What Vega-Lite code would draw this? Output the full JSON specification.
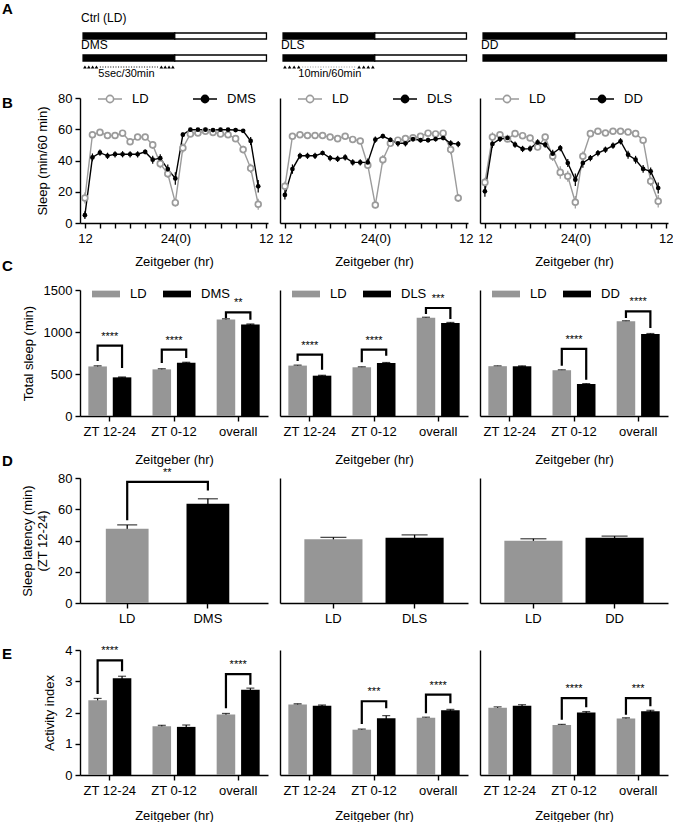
{
  "$schema": "https://vega.github.io/schema/vega-lite/v6.json",
  "background": "white",
  "padding": {"left": 2, "top": 2, "right": 0, "bottom": 0},
  "columns": 3,
  "bounds": "flush",
  "spacing": {"row": 0, "column": 12},
  "resolve": {"scale": {"color": "independent", "fill": "independent", "size": "independent", "xOffset": "independent", "x": "independent", "y": "independent"}},
  "config": {
    "font": "Liberation Sans",
    "view": {"stroke": null},
    "axis": {"grid": false, "domainColor": "#000", "domainWidth": 1.4, "tickColor": "#000", "tickWidth": 1.4, "tickSize": 5, "labelColor": "#000", "labelFontSize": 13, "labelFont": "Liberation Sans", "titleColor": "#000", "titleFontSize": 13, "titleFontWeight": "normal", "titleFont": "Liberation Sans", "labelPadding": 3},
    "axisX": {"labelPadding": 4},
    "legend": {"labelFontSize": 13, "labelColor": "#000", "labelFont": "Liberation Sans"},
    "title": {"color": "#000", "font": "Liberation Sans"},
    "text": {"font": "Liberation Sans", "color": "#000"}
  },
  "datasets": {
    "b1": [
      {"h":12,"s":"LD","m":16,"e":3.5},{"h":13,"s":"LD","m":56.5,"e":1.5},{"h":14,"s":"LD","m":58,"e":1},{"h":15,"s":"LD","m":56,"e":1.5},{"h":16,"s":"LD","m":56,"e":1},{"h":17,"s":"LD","m":57.5,"e":1},{"h":18,"s":"LD","m":52,"e":2},{"h":19,"s":"LD","m":55,"e":1.5},{"h":20,"s":"LD","m":55,"e":1.5},{"h":21,"s":"LD","m":50,"e":2.5},{"h":22,"s":"LD","m":38,"e":3},{"h":23,"s":"LD","m":31.5,"e":2.5},{"h":24,"s":"LD","m":13,"e":2.5},{"h":25,"s":"LD","m":48,"e":3},{"h":26,"s":"LD","m":57,"e":1.5},{"h":27,"s":"LD","m":57.6,"e":1},{"h":28,"s":"LD","m":58.7,"e":1},{"h":29,"s":"LD","m":58,"e":1},{"h":30,"s":"LD","m":57,"e":1},{"h":31,"s":"LD","m":56.5,"e":1.5},{"h":32,"s":"LD","m":54,"e":2},{"h":33,"s":"LD","m":47,"e":2.5},{"h":34,"s":"LD","m":35,"e":3},{"h":35,"s":"LD","m":12,"e":3.5},
      {"h":12,"s":"DMS","m":5,"e":2.5},{"h":13,"s":"DMS","m":42,"e":2.5},{"h":14,"s":"DMS","m":45,"e":2},{"h":15,"s":"DMS","m":43,"e":2},{"h":16,"s":"DMS","m":44,"e":2},{"h":17,"s":"DMS","m":44,"e":2},{"h":18,"s":"DMS","m":44,"e":2},{"h":19,"s":"DMS","m":44,"e":2},{"h":20,"s":"DMS","m":45.5,"e":1.5},{"h":21,"s":"DMS","m":40.5,"e":2.5},{"h":22,"s":"DMS","m":41.5,"e":2.5},{"h":23,"s":"DMS","m":34.5,"e":3},{"h":24,"s":"DMS","m":28.5,"e":4},{"h":25,"s":"DMS","m":56.5,"e":1.5},{"h":26,"s":"DMS","m":59.7,"e":0.7},{"h":27,"s":"DMS","m":59.7,"e":0.7},{"h":28,"s":"DMS","m":59.7,"e":0.7},{"h":29,"s":"DMS","m":59.5,"e":0.7},{"h":30,"s":"DMS","m":59.7,"e":0.7},{"h":31,"s":"DMS","m":59.7,"e":0.7},{"h":32,"s":"DMS","m":59.5,"e":0.7},{"h":33,"s":"DMS","m":59,"e":1},{"h":34,"s":"DMS","m":52.5,"e":2.5},{"h":35,"s":"DMS","m":23.5,"e":4}
    ],
    "b2": [
      {"h":12,"s":"LD","m":23.5,"e":3},{"h":13,"s":"LD","m":55.5,"e":1.5},{"h":14,"s":"LD","m":56.5,"e":1},{"h":15,"s":"LD","m":56,"e":1},{"h":16,"s":"LD","m":56,"e":1},{"h":17,"s":"LD","m":56,"e":1},{"h":18,"s":"LD","m":55,"e":1},{"h":19,"s":"LD","m":54,"e":1},{"h":20,"s":"LD","m":55.5,"e":1},{"h":21,"s":"LD","m":53.5,"e":1.5},{"h":22,"s":"LD","m":52.5,"e":1.5},{"h":23,"s":"LD","m":37,"e":2.5},{"h":24,"s":"LD","m":11.5,"e":2},{"h":25,"s":"LD","m":40.5,"e":3},{"h":26,"s":"LD","m":51,"e":2},{"h":27,"s":"LD","m":53,"e":1.5},{"h":28,"s":"LD","m":54,"e":1.5},{"h":29,"s":"LD","m":54.5,"e":1.5},{"h":30,"s":"LD","m":55.5,"e":1.5},{"h":31,"s":"LD","m":57.5,"e":1.5},{"h":32,"s":"LD","m":57,"e":1.5},{"h":33,"s":"LD","m":57.5,"e":1.5},{"h":34,"s":"LD","m":47,"e":3},{"h":35,"s":"LD","m":16,"e":2.5},
      {"h":12,"s":"DLS","m":18,"e":3},{"h":13,"s":"DLS","m":34.5,"e":3},{"h":14,"s":"DLS","m":43,"e":2},{"h":15,"s":"DLS","m":43,"e":2},{"h":16,"s":"DLS","m":43,"e":2},{"h":17,"s":"DLS","m":44.8,"e":1.5},{"h":18,"s":"DLS","m":41.6,"e":2},{"h":19,"s":"DLS","m":41,"e":2},{"h":20,"s":"DLS","m":42,"e":2},{"h":21,"s":"DLS","m":38.8,"e":2},{"h":22,"s":"DLS","m":38.8,"e":2},{"h":23,"s":"DLS","m":38.8,"e":2.5},{"h":24,"s":"DLS","m":53.3,"e":2},{"h":25,"s":"DLS","m":55.6,"e":1.5},{"h":26,"s":"DLS","m":53.2,"e":1.5},{"h":27,"s":"DLS","m":51,"e":2},{"h":28,"s":"DLS","m":51,"e":2},{"h":29,"s":"DLS","m":53.7,"e":1.5},{"h":30,"s":"DLS","m":53,"e":1.5},{"h":31,"s":"DLS","m":53,"e":1.5},{"h":32,"s":"DLS","m":53.7,"e":1.5},{"h":33,"s":"DLS","m":54.4,"e":1.5},{"h":34,"s":"DLS","m":51,"e":2},{"h":35,"s":"DLS","m":50.5,"e":2}
    ],
    "b3": [
      {"h":12,"s":"LD","m":26,"e":3},{"h":13,"s":"LD","m":55,"e":3},{"h":14,"s":"LD","m":56.5,"e":2},{"h":15,"s":"LD","m":53.8,"e":2},{"h":16,"s":"LD","m":57.2,"e":1.5},{"h":17,"s":"LD","m":55.9,"e":1.5},{"h":18,"s":"LD","m":54.4,"e":1.5},{"h":19,"s":"LD","m":48.6,"e":2},{"h":20,"s":"LD","m":55,"e":2},{"h":21,"s":"LD","m":42.7,"e":3},{"h":22,"s":"LD","m":32.4,"e":4},{"h":23,"s":"LD","m":29.9,"e":3.5},{"h":24,"s":"LD","m":13.3,"e":4},{"h":25,"s":"LD","m":42.7,"e":3},{"h":26,"s":"LD","m":57.2,"e":1.5},{"h":27,"s":"LD","m":58.7,"e":1},{"h":28,"s":"LD","m":57.6,"e":1},{"h":29,"s":"LD","m":58.7,"e":1},{"h":30,"s":"LD","m":58.7,"e":1},{"h":31,"s":"LD","m":58.2,"e":1},{"h":32,"s":"LD","m":57.2,"e":1},{"h":33,"s":"LD","m":53,"e":2},{"h":34,"s":"LD","m":26.7,"e":3},{"h":35,"s":"LD","m":13.9,"e":4},
      {"h":12,"s":"DD","m":20.3,"e":3.5},{"h":13,"s":"DD","m":50.6,"e":2.5},{"h":14,"s":"DD","m":53.8,"e":2},{"h":15,"s":"DD","m":54.4,"e":2},{"h":16,"s":"DD","m":50.1,"e":2},{"h":17,"s":"DD","m":47.4,"e":2},{"h":18,"s":"DD","m":47.6,"e":2},{"h":19,"s":"DD","m":51.6,"e":2},{"h":20,"s":"DD","m":50.1,"e":2},{"h":21,"s":"DD","m":44.4,"e":2.5},{"h":22,"s":"DD","m":48,"e":2},{"h":23,"s":"DD","m":38.4,"e":2.5},{"h":24,"s":"DD","m":27.7,"e":4},{"h":25,"s":"DD","m":38.4,"e":3},{"h":26,"s":"DD","m":41.6,"e":2},{"h":27,"s":"DD","m":44.8,"e":2},{"h":28,"s":"DD","m":46.9,"e":2},{"h":29,"s":"DD","m":49.5,"e":2},{"h":30,"s":"DD","m":52.3,"e":2},{"h":31,"s":"DD","m":43.7,"e":2.5},{"h":32,"s":"DD","m":40.5,"e":2.5},{"h":33,"s":"DD","m":34.6,"e":2.5},{"h":34,"s":"DD","m":33.1,"e":2.5},{"h":35,"s":"DD","m":22.4,"e":3.5}
    ],
    "c1": [{"g":"ZT 12-24","s":"LD","m":590,"e":8},{"g":"ZT 12-24","s":"DMS","m":460,"e":5},{"g":"ZT 0-12","s":"LD","m":555,"e":8},{"g":"ZT 0-12","s":"DMS","m":635,"e":5},{"g":"overall","s":"LD","m":1150,"e":8},{"g":"overall","s":"DMS","m":1090,"e":6}],
    "c1br": [{"g":"ZT 12-24","s":"LD","m":655,"o":1},{"g":"ZT 12-24","s":"LD","m":837,"o":2},{"g":"ZT 12-24","s":"DMS","m":837,"o":3},{"g":"ZT 12-24","s":"DMS","m":571,"o":4},{"g":"ZT 0-12","s":"LD","m":631,"o":1},{"g":"ZT 0-12","s":"LD","m":789,"o":2},{"g":"ZT 0-12","s":"DMS","m":789,"o":3},{"g":"ZT 0-12","s":"DMS","m":690,"o":4},{"g":"overall","s":"LD","m":1167,"o":1},{"g":"overall","s":"LD","m":1234,"o":2},{"g":"overall","s":"DMS","m":1234,"o":3},{"g":"overall","s":"DMS","m":1147,"o":4}],
    "c1st": [{"g":"ZT 12-24","m":837,"t":"****"},{"g":"ZT 0-12","m":789,"t":"****"},{"g":"overall","m":1234,"t":"**"}],
    "c2": [{"g":"ZT 12-24","s":"LD","m":600,"e":6},{"g":"ZT 12-24","s":"DLS","m":480,"e":5},{"g":"ZT 0-12","s":"LD","m":580,"e":6},{"g":"ZT 0-12","s":"DLS","m":632,"e":5},{"g":"overall","s":"LD","m":1170,"e":6},{"g":"overall","s":"DLS","m":1108,"e":6}],
    "c2br": [{"g":"ZT 12-24","s":"LD","m":655,"o":1},{"g":"ZT 12-24","s":"LD","m":730,"o":2},{"g":"ZT 12-24","s":"DLS","m":730,"o":3},{"g":"ZT 12-24","s":"DLS","m":551,"o":4},{"g":"ZT 0-12","s":"LD","m":639,"o":1},{"g":"ZT 0-12","s":"LD","m":789,"o":2},{"g":"ZT 0-12","s":"DLS","m":789,"o":3},{"g":"ZT 0-12","s":"DLS","m":718,"o":4},{"g":"overall","s":"LD","m":1214,"o":1},{"g":"overall","s":"LD","m":1286,"o":2},{"g":"overall","s":"DLS","m":1286,"o":3},{"g":"overall","s":"DLS","m":1155,"o":4}],
    "c2st": [{"g":"ZT 12-24","m":730,"t":"****"},{"g":"ZT 0-12","m":789,"t":"****"},{"g":"overall","m":1286,"t":"***"}],
    "c3": [{"g":"ZT 12-24","s":"LD","m":593,"e":5},{"g":"ZT 12-24","s":"DD","m":592,"e":5},{"g":"ZT 0-12","s":"LD","m":545,"e":5},{"g":"ZT 0-12","s":"DD","m":381,"e":5},{"g":"overall","s":"LD","m":1128,"e":6},{"g":"overall","s":"DD","m":976,"e":6}],
    "c3br": [{"g":"ZT 0-12","s":"LD","m":599,"o":1},{"g":"ZT 0-12","s":"LD","m":798,"o":2},{"g":"ZT 0-12","s":"DD","m":798,"o":3},{"g":"ZT 0-12","s":"DD","m":432,"o":4},{"g":"overall","s":"LD","m":1167,"o":1},{"g":"overall","s":"LD","m":1246,"o":2},{"g":"overall","s":"DD","m":1246,"o":3},{"g":"overall","s":"DD","m":1048,"o":4}],
    "c3st": [{"g":"ZT 0-12","m":798,"t":"****"},{"g":"overall","m":1246,"t":"****"}],
    "d1": [{"s":"LD","m":47.5,"e":2.5},{"s":"DMS","m":63.5,"e":3.2}],
    "d1br": [{"s":"LD","m":53,"o":1},{"s":"LD","m":77.5,"o":2},{"s":"DMS","m":77.5,"o":3},{"s":"DMS","m":72,"o":4}],
    "d1st": [{"s":"LD","m":77.5,"t":"**"}],
    "d2": [{"s":"LD","m":40.8,"e":1.2},{"s":"DLS","m":41.8,"e":1.8}],
    "d3": [{"s":"LD","m":39.8,"e":1.3},{"s":"DD","m":41.8,"e":1}],
    "e1": [{"g":"ZT 12-24","s":"LD","m":2.39,"e":0.06},{"g":"ZT 12-24","s":"DMS","m":3.1,"e":0.06},{"g":"ZT 0-12","s":"LD","m":1.56,"e":0.03},{"g":"ZT 0-12","s":"DMS","m":1.54,"e":0.06},{"g":"overall","s":"LD","m":1.94,"e":0.03},{"g":"overall","s":"DMS","m":2.73,"e":0.05}],
    "e1br": [{"g":"ZT 12-24","s":"LD","m":2.59,"o":1},{"g":"ZT 12-24","s":"LD","m":3.67,"o":2},{"g":"ZT 12-24","s":"DMS","m":3.67,"o":3},{"g":"ZT 12-24","s":"DMS","m":3.32,"o":4},{"g":"overall","s":"LD","m":2.14,"o":1},{"g":"overall","s":"LD","m":3.23,"o":2},{"g":"overall","s":"DMS","m":3.23,"o":3},{"g":"overall","s":"DMS","m":2.89,"o":4}],
    "e1st": [{"g":"ZT 12-24","m":3.67,"t":"****"},{"g":"overall","m":3.23,"t":"****"}],
    "e2": [{"g":"ZT 12-24","s":"LD","m":2.26,"e":0.02},{"g":"ZT 12-24","s":"DLS","m":2.22,"e":0.02},{"g":"ZT 0-12","s":"LD","m":1.45,"e":0.02},{"g":"ZT 0-12","s":"DLS","m":1.82,"e":0.08},{"g":"overall","s":"LD","m":1.83,"e":0.02},{"g":"overall","s":"DLS","m":2.07,"e":0.03}],
    "e2br": [{"g":"ZT 0-12","s":"LD","m":1.63,"o":1},{"g":"ZT 0-12","s":"LD","m":2.36,"o":2},{"g":"ZT 0-12","s":"DLS","m":2.36,"o":3},{"g":"ZT 0-12","s":"DLS","m":2.14,"o":4},{"g":"overall","s":"LD","m":1.98,"o":1},{"g":"overall","s":"LD","m":2.57,"o":2},{"g":"overall","s":"DLS","m":2.57,"o":3},{"g":"overall","s":"DLS","m":2.3,"o":4}],
    "e2st": [{"g":"ZT 0-12","m":2.36,"t":"***"},{"g":"overall","m":2.57,"t":"****"}],
    "e3": [{"g":"ZT 12-24","s":"LD","m":2.15,"e":0.03},{"g":"ZT 12-24","s":"DD","m":2.22,"e":0.03},{"g":"ZT 0-12","s":"LD","m":1.6,"e":0.02},{"g":"ZT 0-12","s":"DD","m":2.0,"e":0.03},{"g":"overall","s":"LD","m":1.81,"e":0.02},{"g":"overall","s":"DD","m":2.04,"e":0.03}],
    "e3br": [{"g":"ZT 0-12","s":"LD","m":1.77,"o":1},{"g":"ZT 0-12","s":"LD","m":2.46,"o":2},{"g":"ZT 0-12","s":"DD","m":2.46,"o":3},{"g":"ZT 0-12","s":"DD","m":2.17,"o":4},{"g":"overall","s":"LD","m":1.93,"o":1},{"g":"overall","s":"LD","m":2.46,"o":2},{"g":"overall","s":"DD","m":2.46,"o":3},{"g":"overall","s":"DD","m":2.2,"o":4}],
    "e3st": [{"g":"ZT 0-12","m":2.46,"t":"****"},{"g":"overall","m":2.46,"t":"***"}]
  },
  "concat": [
    {
      "width": 188, "height": 22,
      "title": {"text": "A", "orient": "top", "anchor": "start", "frame": "group", "dx": -78, "dy": 5, "offset": 0, "fontSize": 15, "fontWeight": "bold"},
      "layer": [
        {"data": {"values": [{"lane":"top","start":12,"end":24,"ph":"dark"},{"lane":"top","start":24,"end":36,"ph":"light"},{"lane":"bottom","start":12,"end":24,"ph":"dark"},{"lane":"bottom","start":24,"end":36,"ph":"light"}]},
         "mark": {"type": "bar", "height": 6, "stroke": "#000", "strokeWidth": 1.3},
         "encoding": {
           "x": {"field": "start", "type": "quantitative", "scale": {"domain": [11.6, 36.2], "nice": false, "zero": false}, "axis": null},
           "x2": {"field": "end"},
           "y": {"field": "lane", "type": "nominal", "scale": {"type": "point", "domain": ["top", "bottom"], "padding": 0}, "axis": null},
           "fill": {"field": "ph", "type": "nominal", "scale": {"domain": ["dark", "light"], "range": ["#000000", "#ffffff"]}, "legend": null}}},
        {"data": {"values": [{"lane":"top","t":12,"txt":"Ctrl (LD)"}]},
         "mark": {"type": "text", "align": "left", "baseline": "middle", "dy": -18, "dx": -2, "fontSize": 12},
         "encoding": {"x": {"field": "t", "type": "quantitative"}, "y": {"field": "lane", "type": "nominal"}, "text": {"field": "txt"}}},
        {"data": {"values": [{"lane":"bottom","t":12,"txt":"DMS"}]},
         "mark": {"type": "text", "align": "left", "baseline": "middle", "dy": -13, "dx": -2, "fontSize": 12},
         "encoding": {"x": {"field": "t", "type": "quantitative"}, "y": {"field": "lane", "type": "nominal"}, "text": {"field": "txt"}}},
        {"data": {"values": [{"lane":"bottom","t":12.25},{"lane":"bottom","t":12.75},{"lane":"bottom","t":13.25},{"lane":"bottom","t":13.75},{"lane":"bottom","t":22.25},{"lane":"bottom","t":22.75},{"lane":"bottom","t":23.25},{"lane":"bottom","t":23.75}]},
         "mark": {"type": "point", "shape": "triangle-up", "filled": true, "color": "#000", "size": 14, "opacity": 1, "yOffset": 9},
         "encoding": {"x": {"field": "t", "type": "quantitative"}, "y": {"field": "lane", "type": "nominal"}}},
        {"data": {"values": [{"lane":"bottom","t":14.2,"t2":21.8}]},
         "mark": {"type": "rule", "strokeDash": [1, 1.6], "strokeWidth": 1, "color": "#000", "yOffset": 9},
         "encoding": {"x": {"field": "t", "type": "quantitative"}, "x2": {"field": "t2"}, "y": {"field": "lane", "type": "nominal"}}},
        {"data": {"values": [{"lane":"bottom","t":14,"txt":"5sec/30min"}]},
         "mark": {"type": "text", "align": "left", "baseline": "middle", "dy": 16, "fontSize": 11},
         "encoding": {"x": {"field": "t", "type": "quantitative"}, "y": {"field": "lane", "type": "nominal"}, "text": {"field": "txt"}}}
      ]
    },
    {
      "width": 188, "height": 22,
      "layer": [
        {"data": {"values": [{"lane":"top","start":12,"end":24,"ph":"dark"},{"lane":"top","start":24,"end":36,"ph":"light"},{"lane":"bottom","start":12,"end":24,"ph":"dark"},{"lane":"bottom","start":24,"end":36,"ph":"light"}]},
         "mark": {"type": "bar", "height": 6, "stroke": "#000", "strokeWidth": 1.3},
         "encoding": {
           "x": {"field": "start", "type": "quantitative", "scale": {"domain": [11.6, 36.2], "nice": false, "zero": false}, "axis": null},
           "x2": {"field": "end"},
           "y": {"field": "lane", "type": "nominal", "scale": {"type": "point", "domain": ["top", "bottom"], "padding": 0}, "axis": null},
           "fill": {"field": "ph", "type": "nominal", "scale": {"domain": ["dark", "light"], "range": ["#000000", "#ffffff"]}, "legend": null}}},
        {"data": {"values": [{"lane":"bottom","t":12,"txt":"DLS"}]},
         "mark": {"type": "text", "align": "left", "baseline": "middle", "dy": -13, "dx": -2, "fontSize": 12},
         "encoding": {"x": {"field": "t", "type": "quantitative"}, "y": {"field": "lane", "type": "nominal"}, "text": {"field": "txt"}}},
        {"data": {"values": [{"lane":"bottom","t":12.25},{"lane":"bottom","t":12.85},{"lane":"bottom","t":13.45},{"lane":"bottom","t":14.05},{"lane":"bottom","t":21.95},{"lane":"bottom","t":22.55},{"lane":"bottom","t":23.15},{"lane":"bottom","t":23.75}]},
         "mark": {"type": "point", "shape": "triangle-up", "filled": true, "color": "#000", "size": 14, "opacity": 1, "yOffset": 9},
         "encoding": {"x": {"field": "t", "type": "quantitative"}, "y": {"field": "lane", "type": "nominal"}}},
        {"data": {"values": [{"lane":"bottom","t":14.5,"t2":21.5}]},
         "mark": {"type": "rule", "strokeDash": [1, 1.6], "strokeWidth": 1, "color": "#999", "yOffset": 9},
         "encoding": {"x": {"field": "t", "type": "quantitative"}, "x2": {"field": "t2"}, "y": {"field": "lane", "type": "nominal"}}},
        {"data": {"values": [{"lane":"bottom","t":14,"txt":"10min/60min"}]},
         "mark": {"type": "text", "align": "left", "baseline": "middle", "dy": 16, "fontSize": 11},
         "encoding": {"x": {"field": "t", "type": "quantitative"}, "y": {"field": "lane", "type": "nominal"}, "text": {"field": "txt"}}}
      ]
    },
    {
      "width": 188, "height": 22,
      "layer": [
        {"data": {"values": [{"lane":"top","start":12,"end":24,"ph":"dark"},{"lane":"top","start":24,"end":36,"ph":"light"},{"lane":"bottom","start":12,"end":36,"ph":"dark"}]},
         "mark": {"type": "bar", "height": 6, "stroke": "#000", "strokeWidth": 1.3},
         "encoding": {
           "x": {"field": "start", "type": "quantitative", "scale": {"domain": [11.6, 36.2], "nice": false, "zero": false}, "axis": null},
           "x2": {"field": "end"},
           "y": {"field": "lane", "type": "nominal", "scale": {"type": "point", "domain": ["top", "bottom"], "padding": 0}, "axis": null},
           "fill": {"field": "ph", "type": "nominal", "scale": {"domain": ["dark", "light"], "range": ["#000000", "#ffffff"]}, "legend": null}}},
        {"data": {"values": [{"lane":"bottom","t":12,"txt":"DD"}]},
         "mark": {"type": "text", "align": "left", "baseline": "middle", "dy": -13, "dx": -2, "fontSize": 12},
         "encoding": {"x": {"field": "t", "type": "quantitative"}, "y": {"field": "lane", "type": "nominal"}, "text": {"field": "txt"}}}
      ]
    },
    {"width": 188, "height": 40, "data": {"values": []}, "mark": "point", "encoding": {}},
    {"width": 188, "height": 40, "data": {"values": []}, "mark": "point", "encoding": {}},
    {"width": 188, "height": 40, "data": {"values": []}, "mark": "point", "encoding": {}},
    {
      "width": 188, "height": 125,
      "title": {"text": "B", "orient": "top", "anchor": "start", "frame": "group", "dx": -78, "dy": 25, "offset": 0, "fontSize": 15, "fontWeight": "bold"},
      "data": {"name": "b1"},
      "encoding": {
        "x": {"field": "h", "type": "quantitative", "scale": {"domain": [11.35, 36.3], "nice": false, "zero": false}, "axis": {"values": [12,14,16,18,20,22,24,26,28,30,32,34,36], "labelExpr": "datum.value == 24 ? '24(0)' : (datum.value == 12 || datum.value == 36 ? '12' : '')", "labelFlush": false, "labelOverlap": false, "title": "Zeitgeber (hr)", "titlePadding": 10}},
        "y": {"field": "m", "type": "quantitative", "scale": {"domain": [0, 80], "nice": false}, "axis": {"values": [0,20,40,60,80], "labelOverlap": false, "title": "Sleep (min/60 min)", "titlePadding": 8}},
        "color": {"field": "s", "type": "nominal", "scale": {"domain": ["LD", "DMS"], "range": ["#9b9b9b", "#000000"]}, "legend": {"orient": "none", "legendX": 17, "legendY": -12, "direction": "horizontal", "title": null, "symbolType": "M-1,0H-0.3M0.3,0H1M0.3,0A0.3,0.3,0,1,1,-0.3,0A0.3,0.3,0,1,1,0.3,0", "symbolSize": 576, "symbolStrokeWidth": 1.6, "symbolOpacity": 1, "labelOffset": 9, "columnPadding": 40, "encode": {"symbols": {"update": {"size": {"value": 576}, "shape": {"value": "M-1,0H-0.3M0.3,0H1M0.3,0A0.3,0.3,0,1,1,-0.3,0A0.3,0.3,0,1,1,0.3,0"}}}}}},
        "fill": {"field": "s", "type": "nominal", "scale": {"domain": ["LD", "DMS"], "range": ["#ffffff", "#000000"]}, "legend": null}
      },
      "layer": [
        {"mark": {"type": "errorbar", "ticks": {"size": 5}, "thickness": 1.2}, "encoding": {"yError": {"field": "e"}, "fill": {"value": null}}},
        {"mark": {"type": "line", "strokeWidth": 1.4}, "encoding": {"fill": {"value": null}}},
        {"transform": [{"filter": "datum.s == 'LD'"}], "mark": {"type": "point", "filled": false, "size": 34, "strokeWidth": 1.7, "opacity": 1}},
        {"transform": [{"filter": "datum.s != 'LD'"}], "mark": {"type": "point", "filled": true, "size": 22, "opacity": 1}}
      ]
    },
    {
      "width": 188, "height": 125,
      "data": {"name": "b2"},
      "encoding": {
        "x": {"field": "h", "type": "quantitative", "scale": {"domain": [11.35, 36.3], "nice": false, "zero": false}, "axis": {"values": [12,14,16,18,20,22,24,26,28,30,32,34,36], "labelExpr": "datum.value == 24 ? '24(0)' : (datum.value == 12 || datum.value == 36 ? '12' : '')", "labelFlush": false, "labelOverlap": false, "title": "Zeitgeber (hr)", "titlePadding": 10}},
        "y": {"field": "m", "type": "quantitative", "scale": {"domain": [0, 80], "nice": false}, "axis": {"ticks": false, "labels": false, "title": null}},
        "color": {"field": "s", "type": "nominal", "scale": {"domain": ["LD", "DLS"], "range": ["#9b9b9b", "#000000"]}, "legend": {"orient": "none", "legendX": 17, "legendY": -12, "direction": "horizontal", "title": null, "symbolType": "M-1,0H-0.3M0.3,0H1M0.3,0A0.3,0.3,0,1,1,-0.3,0A0.3,0.3,0,1,1,0.3,0", "symbolSize": 576, "symbolStrokeWidth": 1.6, "symbolOpacity": 1, "labelOffset": 9, "columnPadding": 40, "encode": {"symbols": {"update": {"size": {"value": 576}, "shape": {"value": "M-1,0H-0.3M0.3,0H1M0.3,0A0.3,0.3,0,1,1,-0.3,0A0.3,0.3,0,1,1,0.3,0"}}}}}},
        "fill": {"field": "s", "type": "nominal", "scale": {"domain": ["LD", "DLS"], "range": ["#ffffff", "#000000"]}, "legend": null}
      },
      "layer": [
        {"mark": {"type": "errorbar", "ticks": {"size": 5}, "thickness": 1.2}, "encoding": {"yError": {"field": "e"}, "fill": {"value": null}}},
        {"mark": {"type": "line", "strokeWidth": 1.4}, "encoding": {"fill": {"value": null}}},
        {"transform": [{"filter": "datum.s == 'LD'"}], "mark": {"type": "point", "filled": false, "size": 34, "strokeWidth": 1.7, "opacity": 1}},
        {"transform": [{"filter": "datum.s != 'LD'"}], "mark": {"type": "point", "filled": true, "size": 22, "opacity": 1}}
      ]
    },
    {
      "width": 188, "height": 125,
      "data": {"name": "b3"},
      "encoding": {
        "x": {"field": "h", "type": "quantitative", "scale": {"domain": [11.35, 36.3], "nice": false, "zero": false}, "axis": {"values": [12,14,16,18,20,22,24,26,28,30,32,34,36], "labelExpr": "datum.value == 24 ? '24(0)' : (datum.value == 12 || datum.value == 36 ? '12' : '')", "labelFlush": false, "labelOverlap": false, "title": "Zeitgeber (hr)", "titlePadding": 10}},
        "y": {"field": "m", "type": "quantitative", "scale": {"domain": [0, 80], "nice": false}, "axis": {"ticks": false, "labels": false, "title": null}},
        "color": {"field": "s", "type": "nominal", "scale": {"domain": ["LD", "DD"], "range": ["#9b9b9b", "#000000"]}, "legend": {"orient": "none", "legendX": 14, "legendY": -12, "direction": "horizontal", "title": null, "symbolType": "M-1,0H-0.3M0.3,0H1M0.3,0A0.3,0.3,0,1,1,-0.3,0A0.3,0.3,0,1,1,0.3,0", "symbolSize": 576, "symbolStrokeWidth": 1.6, "symbolOpacity": 1, "labelOffset": 9, "columnPadding": 40, "encode": {"symbols": {"update": {"size": {"value": 576}, "shape": {"value": "M-1,0H-0.3M0.3,0H1M0.3,0A0.3,0.3,0,1,1,-0.3,0A0.3,0.3,0,1,1,0.3,0"}}}}}},
        "fill": {"field": "s", "type": "nominal", "scale": {"domain": ["LD", "DD"], "range": ["#ffffff", "#000000"]}, "legend": null}
      },
      "layer": [
        {"mark": {"type": "errorbar", "ticks": {"size": 5}, "thickness": 1.2}, "encoding": {"yError": {"field": "e"}, "fill": {"value": null}}},
        {"mark": {"type": "line", "strokeWidth": 1.4}, "encoding": {"fill": {"value": null}}},
        {"transform": [{"filter": "datum.s == 'LD'"}], "mark": {"type": "point", "filled": false, "size": 34, "strokeWidth": 1.7, "opacity": 1}},
        {"transform": [{"filter": "datum.s != 'LD'"}], "mark": {"type": "point", "filled": true, "size": 22, "opacity": 1}}
      ]
    },
    {"width": 188, "height": 67, "data": {"values": []}, "mark": "point", "encoding": {}},
    {"width": 188, "height": 67, "data": {"values": []}, "mark": "point", "encoding": {}},
    {"width": 188, "height": 67, "data": {"values": []}, "mark": "point", "encoding": {}},
    {
      "width": 188, "height": 126,
      "title": {"text": "C", "orient": "top", "anchor": "start", "frame": "group", "dx": -78, "dy": -6, "offset": 0, "fontSize": 15, "fontWeight": "bold"},
      "encoding": {
        "x": {"field": "g", "type": "nominal", "sort": null, "scale": {"domain": ["ZT 12-24", "ZT 0-12", "overall"], "paddingInner": 0.33, "paddingOuter": 0.13}, "axis": {"title": "Zeitgeber (hr)", "labelAngle": 0, "titlePadding": 15}},
        "y": {"field": "m", "type": "quantitative", "stack": null, "scale": {"domain": [0, 1500], "nice": false}, "axis": {"values": [0, 500, 1000, 1500], "format": "d", "labelOverlap": false, "title": "Total sleep (min)", "titlePadding": 8}}
      },
      "layer": [
        {"data": {"name": "c1"}, "mark": {"type": "errorbar", "ticks": {"size": 8}, "color": "#000", "thickness": 1.2},
         "encoding": {"xOffset": {"field": "s", "type": "nominal", "scale": {"domain": ["LD", "DMS"], "paddingInner": 0.24, "paddingOuter": 0}}, "yError": {"field": "e"}}},
        {"data": {"name": "c1"}, "mark": {"type": "bar"},
         "encoding": {"xOffset": {"field": "s", "type": "nominal"},
           "color": {"field": "s", "type": "nominal", "scale": {"domain": ["LD", "DMS"], "range": ["#969696", "#000000"]}, "legend": {"orient": "none", "legendX": 12, "legendY": -10, "direction": "horizontal", "title": null, "symbolType": "M-1,-0.24H1V0.24H-1Z", "symbolSize": 784, "symbolStrokeWidth": 0, "symbolOpacity": 1, "labelOffset": 10, "columnPadding": 16}}}},
        {"data": {"name": "c1br"}, "mark": {"type": "line", "color": "#000", "strokeWidth": 2.2},
         "encoding": {"xOffset": {"field": "s", "type": "nominal"}, "detail": {"field": "g"}, "order": {"field": "o"}}},
        {"data": {"name": "c1st"}, "mark": {"type": "text", "dy": -9, "fontSize": 11},
         "encoding": {"text": {"field": "t"}}}
      ]
    },
    {
      "width": 188, "height": 126,
      "encoding": {
        "x": {"field": "g", "type": "nominal", "sort": null, "scale": {"domain": ["ZT 12-24", "ZT 0-12", "overall"], "paddingInner": 0.33, "paddingOuter": 0.13}, "axis": {"title": "Zeitgeber (hr)", "labelAngle": 0, "titlePadding": 15}},
        "y": {"field": "m", "type": "quantitative", "stack": null, "scale": {"domain": [0, 1500], "nice": false}, "axis": {"ticks": false, "labels": false, "title": null}}
      },
      "layer": [
        {"data": {"name": "c2"}, "mark": {"type": "errorbar", "ticks": {"size": 8}, "color": "#000", "thickness": 1.2},
         "encoding": {"xOffset": {"field": "s", "type": "nominal", "scale": {"domain": ["LD", "DLS"], "paddingInner": 0.24, "paddingOuter": 0}}, "yError": {"field": "e"}}},
        {"data": {"name": "c2"}, "mark": {"type": "bar"},
         "encoding": {"xOffset": {"field": "s", "type": "nominal"},
           "color": {"field": "s", "type": "nominal", "scale": {"domain": ["LD", "DLS"], "range": ["#969696", "#000000"]}, "legend": {"orient": "none", "legendX": 12, "legendY": -10, "direction": "horizontal", "title": null, "symbolType": "M-1,-0.24H1V0.24H-1Z", "symbolSize": 784, "symbolStrokeWidth": 0, "symbolOpacity": 1, "labelOffset": 10, "columnPadding": 16}}}},
        {"data": {"name": "c2br"}, "mark": {"type": "line", "color": "#000", "strokeWidth": 2.2},
         "encoding": {"xOffset": {"field": "s", "type": "nominal"}, "detail": {"field": "g"}, "order": {"field": "o"}}},
        {"data": {"name": "c2st"}, "mark": {"type": "text", "dy": -9, "fontSize": 11},
         "encoding": {"text": {"field": "t"}}}
      ]
    },
    {
      "width": 188, "height": 126,
      "encoding": {
        "x": {"field": "g", "type": "nominal", "sort": null, "scale": {"domain": ["ZT 12-24", "ZT 0-12", "overall"], "paddingInner": 0.33, "paddingOuter": 0.13}, "axis": {"title": "Zeitgeber (hr)", "labelAngle": 0, "titlePadding": 15}},
        "y": {"field": "m", "type": "quantitative", "stack": null, "scale": {"domain": [0, 1500], "nice": false}, "axis": {"ticks": false, "labels": false, "title": null}}
      },
      "layer": [
        {"data": {"name": "c3"}, "mark": {"type": "errorbar", "ticks": {"size": 8}, "color": "#000", "thickness": 1.2},
         "encoding": {"xOffset": {"field": "s", "type": "nominal", "scale": {"domain": ["LD", "DD"], "paddingInner": 0.24, "paddingOuter": 0}}, "yError": {"field": "e"}}},
        {"data": {"name": "c3"}, "mark": {"type": "bar"},
         "encoding": {"xOffset": {"field": "s", "type": "nominal"},
           "color": {"field": "s", "type": "nominal", "scale": {"domain": ["LD", "DD"], "range": ["#969696", "#000000"]}, "legend": {"orient": "none", "legendX": 12, "legendY": -10, "direction": "horizontal", "title": null, "symbolType": "M-1,-0.24H1V0.24H-1Z", "symbolSize": 784, "symbolStrokeWidth": 0, "symbolOpacity": 1, "labelOffset": 10, "columnPadding": 16}}}},
        {"data": {"name": "c3br"}, "mark": {"type": "line", "color": "#000", "strokeWidth": 2.2},
         "encoding": {"xOffset": {"field": "s", "type": "nominal"}, "detail": {"field": "g"}, "order": {"field": "o"}}},
        {"data": {"name": "c3st"}, "mark": {"type": "text", "dy": -9, "fontSize": 11},
         "encoding": {"text": {"field": "t"}}}
      ]
    },
    {"width": 188, "height": 62, "data": {"values": []}, "mark": "point", "encoding": {}},
    {"width": 188, "height": 62, "data": {"values": []}, "mark": "point", "encoding": {}},
    {"width": 188, "height": 62, "data": {"values": []}, "mark": "point", "encoding": {}},
    {
      "width": 188, "height": 125,
      "title": {"text": "D", "orient": "top", "anchor": "start", "frame": "group", "dx": -78, "dy": 2, "offset": 0, "fontSize": 15, "fontWeight": "bold"},
      "encoding": {
        "x": {"field": "s", "type": "nominal", "sort": null, "scale": {"domain": ["LD", "DMS"], "paddingInner": 0.47, "paddingOuter": 0.4, "align": 0.4}, "axis": {"title": null, "labelAngle": 0}},
        "y": {"field": "m", "type": "quantitative", "stack": null, "scale": {"domain": [0, 80], "nice": false}, "axis": {"values": [0, 20, 40, 60, 80], "labelOverlap": false, "title": ["Sleep latency (min)", "(ZT 12-24)"], "titlePadding": 8}}
      },
      "layer": [
        {"data": {"name": "d1"}, "mark": {"type": "errorbar", "ticks": {"size": 20}, "color": "#000", "thickness": 1.3},
         "encoding": {"yError": {"field": "e"}}},
        {"data": {"name": "d1"}, "mark": {"type": "bar"},
         "encoding": {"color": {"field": "s", "type": "nominal", "scale": {"domain": ["LD", "DMS"], "range": ["#969696", "#000000"]}, "legend": null}}},
        {"data": {"name": "d1br"}, "mark": {"type": "line", "color": "#000", "strokeWidth": 2.2},
         "encoding": {"order": {"field": "o"}}},
        {"data": {"name": "d1st"}, "mark": {"type": "text", "dy": -9, "dx": 40, "fontSize": 11},
         "encoding": {"text": {"field": "t"}}}
      ]
    },
    {
      "width": 188, "height": 125,
      "encoding": {
        "x": {"field": "s", "type": "nominal", "sort": null, "scale": {"domain": ["LD", "DLS"], "paddingInner": 0.284, "paddingOuter": 0.3}, "axis": {"title": null, "labelAngle": 0}},
        "y": {"field": "m", "type": "quantitative", "stack": null, "scale": {"domain": [0, 80], "nice": false}, "axis": {"ticks": false, "labels": false, "title": null}}
      },
      "layer": [
        {"data": {"name": "d2"}, "mark": {"type": "errorbar", "ticks": {"size": 26}, "color": "#000", "thickness": 1.3},
         "encoding": {"yError": {"field": "e"}}},
        {"data": {"name": "d2"}, "mark": {"type": "bar"},
         "encoding": {"color": {"field": "s", "type": "nominal", "scale": {"domain": ["LD", "DLS"], "range": ["#969696", "#000000"]}, "legend": null}}}
      ]
    },
    {
      "width": 188, "height": 125,
      "encoding": {
        "x": {"field": "s", "type": "nominal", "sort": null, "scale": {"domain": ["LD", "DD"], "paddingInner": 0.284, "paddingOuter": 0.3}, "axis": {"title": null, "labelAngle": 0}},
        "y": {"field": "m", "type": "quantitative", "stack": null, "scale": {"domain": [0, 80], "nice": false}, "axis": {"ticks": false, "labels": false, "title": null}}
      },
      "layer": [
        {"data": {"name": "d3"}, "mark": {"type": "errorbar", "ticks": {"size": 26}, "color": "#000", "thickness": 1.3},
         "encoding": {"yError": {"field": "e"}}},
        {"data": {"name": "d3"}, "mark": {"type": "bar"},
         "encoding": {"color": {"field": "s", "type": "nominal", "scale": {"domain": ["LD", "DD"], "range": ["#969696", "#000000"]}, "legend": null}}}
      ]
    },
    {"width": 188, "height": 47, "data": {"values": []}, "mark": "point", "encoding": {}},
    {"width": 188, "height": 47, "data": {"values": []}, "mark": "point", "encoding": {}},
    {"width": 188, "height": 47, "data": {"values": []}, "mark": "point", "encoding": {}},
    {
      "width": 188, "height": 125,
      "title": {"text": "E", "orient": "top", "anchor": "start", "frame": "group", "dx": -78, "dy": 18, "offset": 0, "fontSize": 15, "fontWeight": "bold"},
      "encoding": {
        "x": {"field": "g", "type": "nominal", "sort": null, "scale": {"domain": ["ZT 12-24", "ZT 0-12", "overall"], "paddingInner": 0.33, "paddingOuter": 0.13}, "axis": {"title": "Zeitgeber (hr)", "labelAngle": 0, "titlePadding": 12}},
        "y": {"field": "m", "type": "quantitative", "stack": null, "scale": {"domain": [0, 4], "nice": false}, "axis": {"values": [0, 1, 2, 3, 4], "labelOverlap": false, "title": "Activity index", "titlePadding": 8}}
      },
      "layer": [
        {"data": {"name": "e1"}, "mark": {"type": "errorbar", "ticks": {"size": 8}, "color": "#000", "thickness": 1.2},
         "encoding": {"xOffset": {"field": "s", "type": "nominal", "scale": {"domain": ["LD", "DMS"], "paddingInner": 0.24, "paddingOuter": 0}}, "yError": {"field": "e"}}},
        {"data": {"name": "e1"}, "mark": {"type": "bar"},
         "encoding": {"xOffset": {"field": "s", "type": "nominal"}, "color": {"field": "s", "type": "nominal", "scale": {"domain": ["LD", "DMS"], "range": ["#969696", "#000000"]}, "legend": null}}},
        {"data": {"name": "e1br"}, "mark": {"type": "line", "color": "#000", "strokeWidth": 2.2},
         "encoding": {"xOffset": {"field": "s", "type": "nominal"}, "detail": {"field": "g"}, "order": {"field": "o"}}},
        {"data": {"name": "e1st"}, "mark": {"type": "text", "dy": -9, "fontSize": 11},
         "encoding": {"text": {"field": "t"}}}
      ]
    },
    {
      "width": 188, "height": 125,
      "encoding": {
        "x": {"field": "g", "type": "nominal", "sort": null, "scale": {"domain": ["ZT 12-24", "ZT 0-12", "overall"], "paddingInner": 0.33, "paddingOuter": 0.13}, "axis": {"title": "Zeitgeber (hr)", "labelAngle": 0, "titlePadding": 12}},
        "y": {"field": "m", "type": "quantitative", "stack": null, "scale": {"domain": [0, 4], "nice": false}, "axis": {"ticks": false, "labels": false, "title": null}}
      },
      "layer": [
        {"data": {"name": "e2"}, "mark": {"type": "errorbar", "ticks": {"size": 8}, "color": "#000", "thickness": 1.2},
         "encoding": {"xOffset": {"field": "s", "type": "nominal", "scale": {"domain": ["LD", "DLS"], "paddingInner": 0.24, "paddingOuter": 0}}, "yError": {"field": "e"}}},
        {"data": {"name": "e2"}, "mark": {"type": "bar"},
         "encoding": {"xOffset": {"field": "s", "type": "nominal"}, "color": {"field": "s", "type": "nominal", "scale": {"domain": ["LD", "DLS"], "range": ["#969696", "#000000"]}, "legend": null}}},
        {"data": {"name": "e2br"}, "mark": {"type": "line", "color": "#000", "strokeWidth": 2.2},
         "encoding": {"xOffset": {"field": "s", "type": "nominal"}, "detail": {"field": "g"}, "order": {"field": "o"}}},
        {"data": {"name": "e2st"}, "mark": {"type": "text", "dy": -9, "fontSize": 11},
         "encoding": {"text": {"field": "t"}}}
      ]
    },
    {
      "width": 188, "height": 125,
      "encoding": {
        "x": {"field": "g", "type": "nominal", "sort": null, "scale": {"domain": ["ZT 12-24", "ZT 0-12", "overall"], "paddingInner": 0.33, "paddingOuter": 0.13}, "axis": {"title": "Zeitgeber (hr)", "labelAngle": 0, "titlePadding": 12}},
        "y": {"field": "m", "type": "quantitative", "stack": null, "scale": {"domain": [0, 4], "nice": false}, "axis": {"ticks": false, "labels": false, "title": null}}
      },
      "layer": [
        {"data": {"name": "e3"}, "mark": {"type": "errorbar", "ticks": {"size": 8}, "color": "#000", "thickness": 1.2},
         "encoding": {"xOffset": {"field": "s", "type": "nominal", "scale": {"domain": ["LD", "DD"], "paddingInner": 0.24, "paddingOuter": 0}}, "yError": {"field": "e"}}},
        {"data": {"name": "e3"}, "mark": {"type": "bar"},
         "encoding": {"xOffset": {"field": "s", "type": "nominal"}, "color": {"field": "s", "type": "nominal", "scale": {"domain": ["LD", "DD"], "range": ["#969696", "#000000"]}, "legend": null}}},
        {"data": {"name": "e3br"}, "mark": {"type": "line", "color": "#000", "strokeWidth": 2.2},
         "encoding": {"xOffset": {"field": "s", "type": "nominal"}, "detail": {"field": "g"}, "order": {"field": "o"}}},
        {"data": {"name": "e3st"}, "mark": {"type": "text", "dy": -9, "fontSize": 11},
         "encoding": {"text": {"field": "t"}}}
      ]
    }
  ]
}
